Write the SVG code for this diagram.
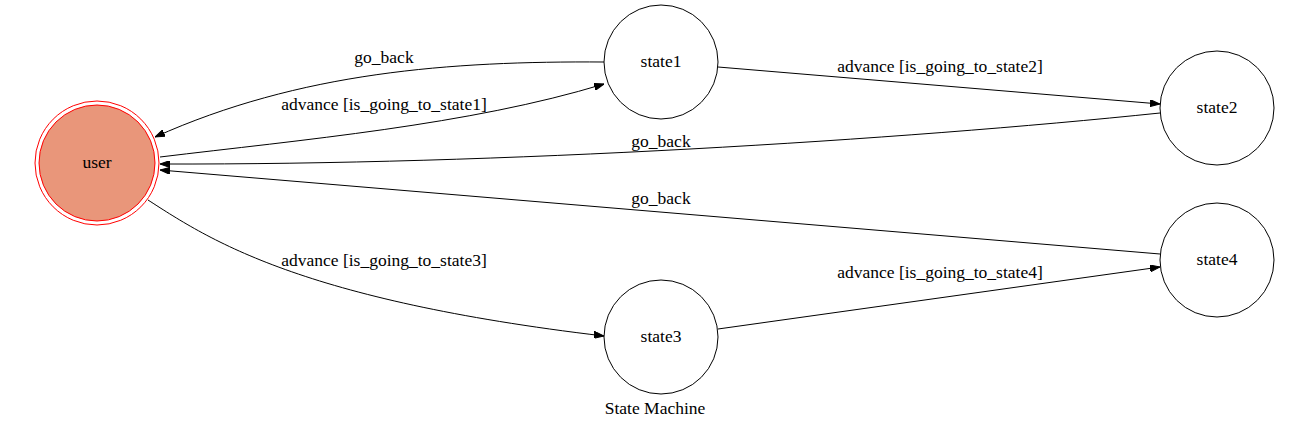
<svg xmlns="http://www.w3.org/2000/svg" width="1308" height="431" viewBox="0 0 1308 431">
<style>
text{font-family:"Liberation Serif","Times New Roman",serif;font-size:17.5px;fill:#000;text-anchor:middle}
.st{fill:#fff;stroke:#000;stroke-width:1}
.e{fill:none;stroke:#000;stroke-width:1;marker-end:url(#ah)}
</style>
<defs>
<marker id="ah" markerUnits="userSpaceOnUse" viewBox="0 0 10 7" refX="10" refY="3.5" markerWidth="10" markerHeight="7" orient="auto">
<path d="M0,0 L10,3.5 L0,7 Z" fill="#000" stroke="#000"/>
</marker>
</defs>
<rect width="1308" height="431" fill="#fff"/>
<g id="edges" font-family="Liberation Serif, serif">
<path class="e" d="M604,62 C450,61 300,72 155,137"/>
<text x="384" y="63">go_back</text>
<path class="e" d="M160,157 C300,140 470,125 604,84"/>
<text x="384" y="110">advance [is_going_to_state1]</text>
<path class="e" d="M718,67 L1160,104"/>
<text x="940" y="72">advance [is_going_to_state2]</text>
<path class="e" d="M1160,113 C900,140 500,165 160,164"/>
<text x="661" y="147">go_back</text>
<path class="e" d="M1160,254 L160,170"/>
<text x="661" y="204">go_back</text>
<path class="e" d="M148,200 C210,240 300,300 604,336"/>
<text x="384" y="266">advance [is_going_to_state3]</text>
<path class="e" d="M718,329 L1160,267"/>
<text x="940" y="278">advance [is_going_to_state4]</text>
</g>
<g id="user" font-family="Liberation Serif, serif">
<circle cx="97" cy="163" r="62" fill="none" stroke="#ff0000"/>
<circle cx="97" cy="163" r="58" fill="#e9967a" stroke="#ff0000"/>
<text x="97" y="168">user</text>
</g>
<g id="state1" font-family="Liberation Serif, serif">
<circle class="st" cx="661" cy="62" r="57"/>
<text x="661" y="67">state1</text>
</g>
<g id="state2" font-family="Liberation Serif, serif">
<circle class="st" cx="1217" cy="108" r="57"/>
<text x="1217" y="113">state2</text>
</g>
<g id="state3" font-family="Liberation Serif, serif">
<circle class="st" cx="661" cy="337" r="57"/>
<text x="661" y="342">state3</text>
</g>
<g id="state4" font-family="Liberation Serif, serif">
<circle class="st" cx="1217" cy="260" r="57"/>
<text x="1217" y="265">state4</text>
</g>
<text x="655" y="414" font-family="Liberation Serif, serif">State Machine</text>
</svg>
